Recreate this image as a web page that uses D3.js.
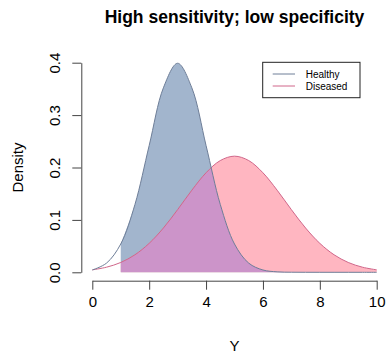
<!DOCTYPE html>
<html><head><meta charset="utf-8">
<script src="https://cdn.jsdelivr.net/npm/d3@7"></script>
<style>body{margin:0;background:#fff}svg{display:block}text{font-family:"Liberation Sans",Arial,sans-serif}</style>
</head><body><svg id="c" width="387" height="353"></svg>
<script>
const title = "High sensitivity; low specificity";
const xValues = [0,0.5,1,1.5,2,2.5,3,3.5,4,4.5,5,5.5,6,6.5,7,7.5,8,8.5,9,9.5,10];
const healthy = [0.00443,0.01753,0.05399,0.12952,0.24197,0.35207,0.39894,0.35207,0.24197,0.12952,0.05399,0.01753,0.00443,0.00087,0.00013,0.00002,0,0,0,0,0];
const diseased = [0.00468,0.00974,0.01876,0.03347,0.05527,0.08449,0.11955,0.15663,0.18994,0.21324,0.22163,0.21324,0.18994,0.15663,0.11955,0.08449,0.05527,0.03347,0.01876,0.00974,0.00468];
const cutoff = 1;
const xTicks = [0,2,4,6,8,10];
const yTicks = [0.0,0.1,0.2,0.3,0.4];
const seriesNames = ["Healthy","Diseased"];
const lineColors = ["#6e7e98","#d0668a"];
const fillColors = ["#a2b5cd","#ffb6c1"];
const overlapColor = "#cc94c9";

const svg = d3.select("#c");
const x = d3.scaleLinear().domain([0,10]).range([92.3,376.7]);
const y = d3.scaleLinear().domain([0,0.4]).range([272.3,62.7]);

const ptsH = xValues.map((v,i)=>[v,healthy[i]]);
const ptsD = xValues.map((v,i)=>[v,diseased[i]]);
const curve = d3.curveCatmullRom;
const area = d3.area().x(d=>x(d[0])).y0(y(0)).y1(d=>y(d[1])).curve(curve);
const line = d3.line().x(d=>x(d[0])).y(d=>y(d[1])).curve(curve);
const fromCut = p => p.filter(d=>d[0]>=cutoff);

const defs = svg.append("defs");
defs.append("clipPath").attr("id","clipH").append("path").attr("d", area(fromCut(ptsH)));

svg.append("path").attr("d", area(fromCut(ptsH))).attr("fill", fillColors[0]);
svg.append("path").attr("d", area(fromCut(ptsD))).attr("fill", fillColors[1]);
svg.append("path").attr("d", area(fromCut(ptsD))).attr("fill", overlapColor).attr("clip-path","url(#clipH)");

svg.append("path").attr("d", line(ptsD)).attr("fill","none").attr("stroke",lineColors[1]).attr("stroke-width",1);
svg.append("path").attr("d", line(ptsH)).attr("fill","none").attr("stroke",lineColors[0]).attr("stroke-width",1);

// axes
const axCol = "#444";
const xa = svg.append("g").attr("transform","translate(0,280.7)")
  .call(d3.axisBottom(x).tickValues(xTicks).tickSize(9).tickSizeOuter(0).tickFormat(d3.format("d")));
xa.select(".domain").attr("stroke",axCol);
xa.selectAll(".tick line").attr("stroke",axCol);
xa.selectAll(".tick text").attr("font-size",15).attr("fill","#000").attr("y",26).attr("dy",0);

const ya = svg.append("g").attr("transform","translate(81.3,0)")
  .call(d3.axisLeft(y).tickValues(yTicks).tickSize(9).tickSizeOuter(0).tickFormat(d3.format(".1f")));
ya.select(".domain").attr("stroke",axCol);
ya.selectAll(".tick line").attr("stroke",axCol);
ya.selectAll(".tick text").attr("font-size",15).attr("fill","#000")
  .attr("x",null).attr("dy",null).attr("text-anchor","middle")
  .attr("transform","translate(-21,0) rotate(-90)");

svg.append("text").attr("x",234.5).attr("y",22.7).attr("text-anchor","middle")
  .attr("font-size",17.5).attr("font-weight","bold").text(title);
svg.append("text").attr("x",234.5).attr("y",351).attr("text-anchor","middle").attr("font-size",15).text("Y");
svg.append("text").attr("transform","translate(22.7,167.5) rotate(-90)").attr("text-anchor","middle")
  .attr("font-size",15).text("Density");

// legend
const lg = svg.append("g");
lg.append("rect").attr("x",262.7).attr("y",62.3).attr("width",97.3).attr("height",35.4)
  .attr("fill","#fff").attr("stroke","#222").attr("stroke-width",1);
seriesNames.forEach((n,i)=>{
  const yy = 74 + i*12;
  lg.append("line").attr("x1",272.7).attr("x2",295).attr("y1",yy).attr("y2",yy).attr("stroke",lineColors[i]);
  lg.append("text").attr("x",305.7).attr("y",yy).attr("dy","0.35em").attr("font-size",10).text(n);
});
</script></body></html>
